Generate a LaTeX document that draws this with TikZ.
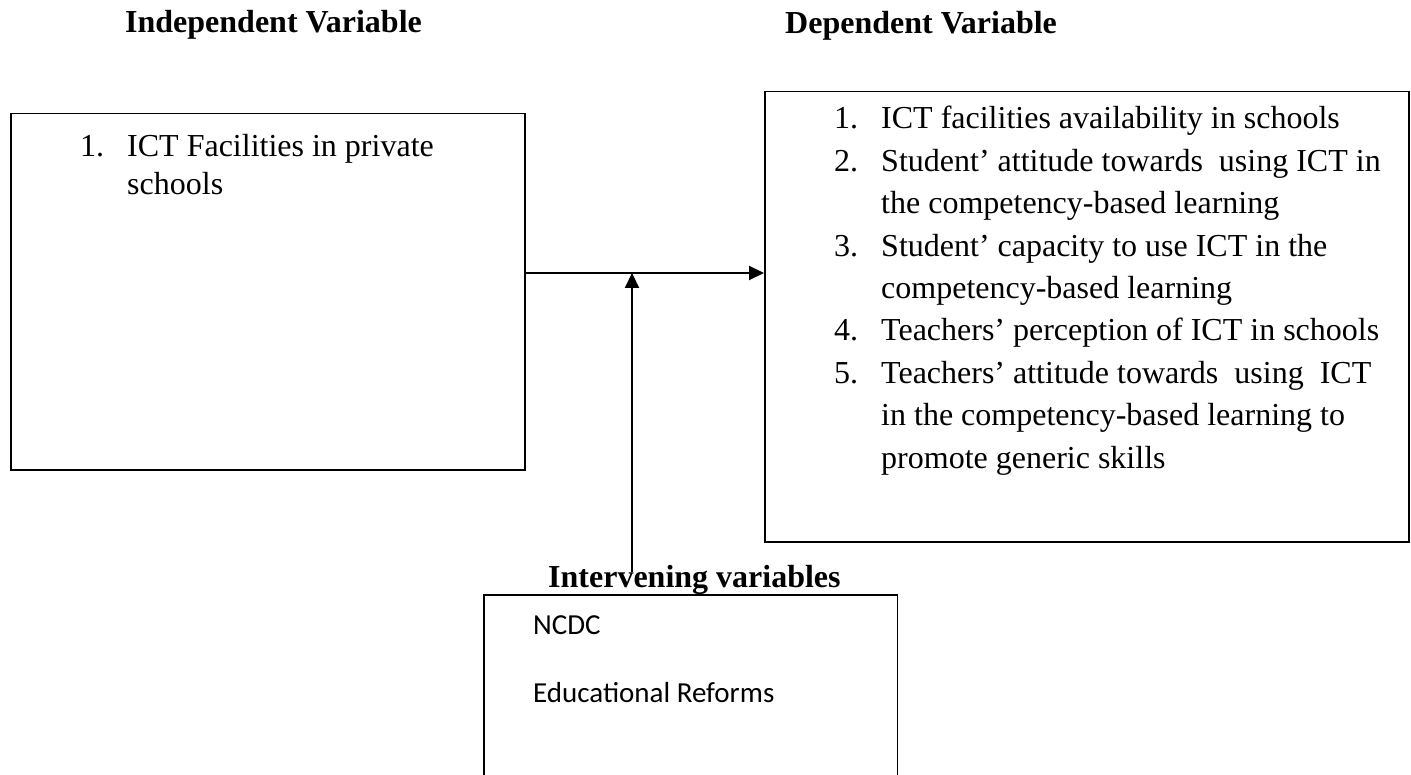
\documentclass[tikz,border=0pt]{standalone}
\usepackage{fontspec}
\setmainfont{Liberation Serif}
\newfontfamily\calibrifont{Carlito}
\usetikzlibrary{arrows.meta}
\begin{document}
\begin{tikzpicture}[x=1pt,y=-1pt,
  box/.style={draw=black, line width=1.5pt, rectangle, inner sep=0pt, anchor=north west},
  openbox/.style={rectangle, inner sep=0pt, anchor=north west},
  txt/.style={inner sep=0pt, anchor=base west, font=\fontsize{32}{38}\selectfont},
  head/.style={inner sep=0pt, anchor=base west, font=\fontsize{32}{38}\selectfont\bfseries},
  ctxt/.style={inner sep=0pt, anchor=base west, font=\calibrifont\fontsize{29}{35}\selectfont},
  conn/.style={draw=black, line width=2pt, -{Triangle[length=15pt,width=14pt]}}
]
\useasboundingbox[fill=white] (0,0) rectangle (1411,775);

% headers
\node[head] (hind) at (125,33) {Independent Variable};
\node[head] (hdep) at (785,34) {Dependent Variable};

% boxes
\node[box, minimum width=514pt, minimum height=356pt] (indep) at (10,113) {};
\node[box, minimum width=644pt, minimum height=450pt] (dep) at (764,91) {};
\node[openbox, minimum width=413pt, minimum height=180pt] (interv) at (484,595) {};
\draw[line width=1.5pt] (interv.south west) -- (interv.north west) -- (interv.north east) -- (interv.south east);

% left box text
\node[txt] (ln1) at (80,157) {1.};
\node[txt] (lt1) at (127,157) {ICT Facilities in private};
\node[txt] (lt2) at (127,195) {schools};

% right box text
\node[txt] (rn1) at (834,129) {1.};
\node[txt] (rt1) at (881,129) {ICT facilities availability in schools};
\node[txt] (rn2) at (834,171.4) {2.};
\node[txt] (rt2) at (881,171.4) {Student’ attitude towards~ using ICT in};
\node[txt] (rt3) at (881,213.8) {the competency-based learning};
\node[txt] (rn3) at (834,256.2) {3.};
\node[txt] (rt4) at (881,256.2) {Student’ capacity to use ICT in the};
\node[txt] (rt5) at (881,298.6) {competency-based learning};
\node[txt] (rn4) at (834,341) {4.};
\node[txt] (rt6) at (881,341) {Teachers’ perception of ICT in schools};
\node[txt] (rn5) at (834,383.4) {5.};
\node[txt] (rt7) at (881,383.4) {Teachers’ attitude towards~ using~ ICT};
\node[txt] (rt8) at (881,425.8) {in the competency-based learning to};
\node[txt] (rt9) at (881,468.2) {promote generic skills};

% intervening
\node[head] (hint) at (548,587) {Intervening variables};
\node[ctxt] (it1) at (533,634) {NCDC};
\node[ctxt] (it2) at (533,702) {Educational Reforms};

% connectors
\coordinate (junction) at (632,273);
\coordinate (vstart) at (632,572);
\draw[conn] (indep.east |- junction) -- (dep.west |- junction);
\draw[conn] (vstart) -- (junction);
\end{tikzpicture}
\end{document}
